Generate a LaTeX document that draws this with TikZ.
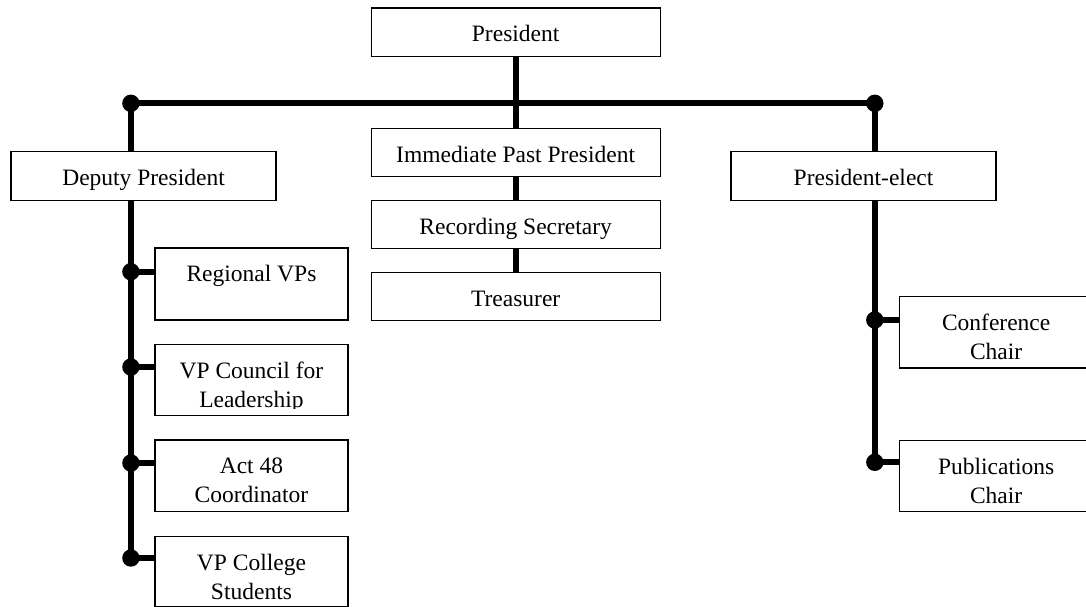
\documentclass[tikz,border=0pt]{standalone}
\usepackage{fontspec}
\setmainfont{Liberation Serif}
\newcommand\orgtext[3]{\parbox[c][#2][t]{#1}{\centering\rule{0pt}{34pt}#3}}
\tikzset{
  orgbox/.style={draw=black, line width=1.3pt, inner sep=0pt, anchor=north west,
    font=\fontsize{23.5}{29}\selectfont},
  link/.style={line width=6pt, draw=black},
}
\begin{document}
\begin{tikzpicture}[x=1pt, y=-1pt]
\useasboundingbox (0,0) rectangle (1086,607);
% boxes
\node[orgbox] (pres) at (370.5,7.3) {\orgtext{289pt}{48.4pt}{President}};
\node[orgbox] (ipp) at (370.5,127.7) {\orgtext{289pt}{48pt}{Immediate Past President}};
\node[orgbox] (rec) at (370.5,200) {\orgtext{289pt}{47.7pt}{Recording Secretary}};
\node[orgbox] (tre) at (370.5,271.7) {\orgtext{289pt}{48.3pt}{Treasurer}};
\node[orgbox] (dep) at (10.4,151) {\orgtext{265pt}{49pt}{Deputy President}};
\node[orgbox] (pel) at (730.4,151) {\orgtext{265pt}{49pt}{President-elect}};
\node[orgbox] (rvp) at (154.3,247.3) {\orgtext{193pt}{72pt}{Regional VPs}};
\node[orgbox] (vpc) at (154.3,344) {\orgtext{193pt}{71pt}{}};
\begin{scope}
  \clip (vpc.north west) rectangle ([yshift=8pt]vpc.south east);
  \node[orgbox, draw=none] (vpct) at (vpc.north west) {\orgtext{193pt}{71pt}{VP Council for\\Leadership}};
\end{scope}
\node[orgbox] (act) at (154.3,439.3) {\orgtext{193pt}{71.7pt}{Act 48\\Coordinator}};
\node[orgbox] (vcs) at (154.3,536) {\orgtext{193pt}{70.2pt}{VP College\\Students}};
\node[orgbox] (con) at (899,295.7) {\orgtext{193pt}{71.6pt}{Conference\\Chair}};
\node[orgbox] (pub) at (899,440) {\orgtext{193pt}{71pt}{Publications\\Chair}};
% junction coordinates
\coordinate (barL) at (130.9,103.3);
\coordinate (barR) at (874.8,103.3);
\coordinate (j1) at (130.9,271.7);
\coordinate (j2) at (130.9,367);
\coordinate (j3) at (130.9,463);
\coordinate (j4) at (130.9,558);
\coordinate (k1) at (874.8,320);
\coordinate (k2) at (874.8,462.3);
% connectors
\draw[link] (barL) -- (barR);
\draw[link] (pres.south) -- (ipp.north);
\draw[link] (ipp.south) -- (rec.north);
\draw[link] (rec.south) -- (tre.north);
\draw[link] (barL) -- (barL |- dep.north);
\draw[link] (barL |- dep.south) -- (j4);
\draw[link] (j1) -- (j1 -| rvp.west);
\draw[link] (j2) -- (j2 -| vpc.west);
\draw[link] (j3) -- (j3 -| act.west);
\draw[link] (j4) -- (j4 -| vcs.west);
\draw[link] (barR) -- (barR |- pel.north);
\draw[link] (barR |- pel.south) -- (k2);
\draw[link] (k1) -- (k1 -| con.west);
\draw[link] (k2) -- (k2 -| pub.west);
% dots
\foreach \p in {barL,barR,j1,j2,j3,j4,k1,k2}
  \fill[black] (\p) circle[radius=8.7pt];
\end{tikzpicture}
\end{document}
